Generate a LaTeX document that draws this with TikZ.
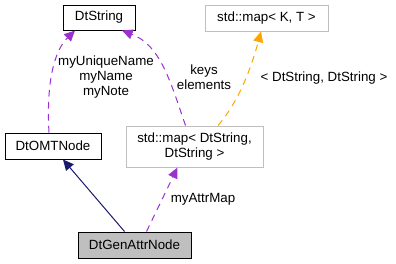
\documentclass[tikz,border=0pt]{standalone}
\usepackage{fontspec}
\setmainfont{Liberation Sans}
\usepackage{tikz}
\usetikzlibrary{arrows.meta,calc}
\definecolor{edgepurple}{HTML}{9A32CD}
\definecolor{edgenavy}{HTML}{191970}
\definecolor{edgeorange}{HTML}{FFA500}
\definecolor{boxgray}{HTML}{BFBFBF}
\tikzset{
  CB/.style={draw, rectangle, align=center, font=\fontsize{10}{11}\selectfont,
             inner sep=2pt, line width=0.75pt},
  UA/.style={-{Triangle[length=8pt,width=7.5pt]}, line width=0.75pt,
             dashed, dash pattern=on 5pt off 4pt, color=edgepurple},
  LB/.style={align=center, font=\fontsize{10}{11.25}\selectfont}
}

\begin{document}
\begin{tikzpicture}[x=0.75pt, y=-0.75pt,
  IA/.style={-{Triangle[length=8pt,width=7.5pt]}, line width=0.75pt, color=edgenavy},
  TA/.style={UA, color=edgeorange}
]
\useasboundingbox (0,0) rectangle (396,264);

% Classes
\node[CB, minimum width=54pt, minimum height=18.75pt] (DtS) at (99,17.5) {DtString};
\node[CB, draw=boxgray, minimum width=92.25pt, minimum height=19.5pt] (MapKT) at (266.5,18) {std::map< K, T >};
\node[CB, minimum width=72pt, minimum height=19.5pt] (OMT) at (53,146) {DtOMTNode};
\node[CB, draw=boxgray, minimum width=102.75pt, minimum height=30.75pt] (MapSS) at (194.5,146.5)
    {std::map< DtString,\\DtString >};
\node[CB, fill=boxgray, minimum width=84.75pt, minimum height=19.5pt] (Gen) at (134.5,245) {DtGenAttrNode};

% -- Inheritance --
\draw[IA] ($(Gen.north)+(-10,0)$) -- ($(OMT.south)+(10,0)$);

% -- Usage relations --
\draw[UA] ($(OMT.north)+(-4,0)$) .. controls (46,80) and (55,50) .. ($(DtS.south)+(-24,0)$);
\draw[UA] ($(MapSS.north)+(-9,0)$) .. controls (170,80) and (160,45) .. ($(DtS.south)+(23,0)$);
\draw[UA] ($(Gen.north)+(12,0)$) -- ($(MapSS.south)+(-17,0)$);

% -- Template instance --
\draw[TA] ($(MapSS.north)+(23.5,0)$) .. controls (240,100) and (252,65) .. ($(MapKT.south)+(-5.5,0)$);

% Labels
\node[LB] (LOMT) at (106,77) {myUniqueName\\myName\\myNote};
\node[LB] (LMap) at (204,77) {keys\\elements};
\node[LB] (LTpl) at (324,78) {< DtString, DtString >};
\node[LB] (LAttr) at (203,199) {myAttrMap};

\end{tikzpicture}
\end{document}
